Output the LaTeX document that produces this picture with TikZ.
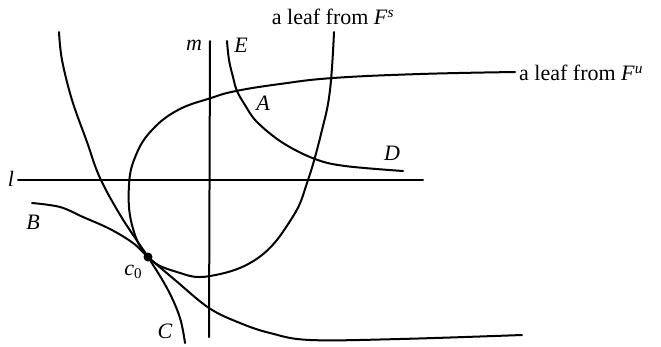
\documentclass[tikz,border=0pt]{standalone}
\usepackage{fontspec}
\setmainfont{Liberation Serif}
\begin{document}
\begin{tikzpicture}[x=1pt,y=-1pt,
  curve/.style={line width=2pt, line cap=round, line join=round},
  lbl/.style={inner sep=0pt, font=\fontsize{22}{26}\selectfont},
  ilbl/.style={inner sep=0pt, font=\fontsize{22}{26}\selectfont\itshape}]
\useasboundingbox (0,0) rectangle (661,346);
% straight lines
\coordinate (l1) at (18,180);
\coordinate (l2) at (423,180);
\coordinate (m1) at (210,41);
\coordinate (m2) at (209,337);
\draw[curve] (l1) -- (l2);
\draw[curve] (m1) -- (m2);
% leaf from F^u / F^s (one curve)
\draw[curve] plot[smooth, tension=0.7] coordinates {
 (515,72) (420,74) (333,78) (280,84) (236,91) (211,98) (178,110) (152,130)
 (136,155) (129,185) (132,225) (148,257) (177,272) (210,276) (258,258)
 (292,218) (308,180) (322,130) (330,90) (334,32)};
% curve through C
\draw[curve] plot[smooth, tension=0.6] coordinates {
 (59,32) (62,60) (72,100) (87,142) (100,178) (122,218) (148,257) (168,290) (180,318) (185,343)};
% curve through B
\draw[curve] plot[smooth, tension=0.6] coordinates {
 (32,203) (60,207) (83,217) (110,229) (133,243) (148,257) (175,280) (209,308)
 (240,323) (270,333) (310,340) (400,339) (522,335)};
% curve E--D
\draw[curve] plot[smooth, tension=0.6] coordinates {
 (227,41) (229,60) (233,77) (237,91) (245,105) (257,122) (283,143) (315,159) (345,166) (403,171)};
% point c0
\node[circle, fill, inner sep=0pt, minimum size=9pt] (c0) at (148,257) {};
% labels
\node[lbl] (fs) at (333,17) {a leaf from \textit{F}\textsuperscript{\textit{s}}};
\node[lbl, anchor=west] (fu) at (519,73) {a leaf from \textit{F}\textsuperscript{\textit{u}}};
\node[ilbl] (lm) at (194,45) {m};
\node[ilbl] (lE) at (241,45) {E};
\node[ilbl] (lA) at (263,103) {A};
\node[ilbl] (lD) at (392,153) {D};
\node[ilbl] (ll) at (11,179) {l};
\node[ilbl] (lB) at (33,222) {B};
\node[lbl] (lc) at (133,272) {\textit{c}\raisebox{-0.35ex}{\fontsize{15}{17}\selectfont 0}};
\node[ilbl] (lC) at (165,331) {C};
\end{tikzpicture}
\end{document}
